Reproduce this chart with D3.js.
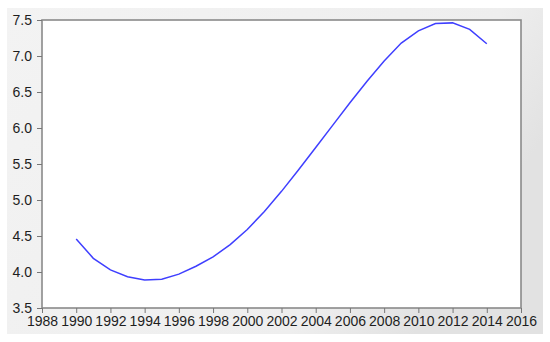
<!DOCTYPE html>
<html>
<head>
<meta charset="utf-8">
<script src="https://cdn.jsdelivr.net/npm/d3@7"></script>
<style>
  body { margin: 0; background: #fff; }
  svg { display: block; font-family: "Liberation Sans", Arial, sans-serif; }
  .axis text { font-size: 14px; fill: #1e1e1e; }
  .axis path { display: none; }
  .axis line { stroke: #777; }
</style>
</head>
<body>
<div class="graph-container"></div>
<script>
// Series
const years = [1990, 1991, 1992, 1993, 1994, 1995, 1996, 1997, 1998, 1999,
               2000, 2001, 2002, 2003, 2004, 2005, 2006, 2007, 2008, 2009,
               2010, 2011, 2012, 2013, 2014];
const values = [4.46, 4.19, 4.03, 3.935, 3.89, 3.90, 3.97, 4.08, 4.21, 4.38,
                4.59, 4.84, 5.12, 5.42, 5.73, 6.04, 6.35, 6.65, 6.93, 7.18,
                7.35, 7.45, 7.46, 7.37, 7.17];
const xTicks = [1988, 1990, 1992, 1994, 1996, 1998, 2000, 2002, 2004, 2006,
                2008, 2010, 2012, 2014, 2016];
const yTicks = [3.5, 4.0, 4.5, 5.0, 5.5, 6.0, 6.5, 7.0, 7.5];

const width = 550, height = 342;
const plot = { left: 42, top: 20, right: 521, bottom: 308 };

const svg = d3.select('.graph-container')
              .append('svg')
              .attr('width', width)
              .attr('height', height);

// Gray backdrop with a faint fade to the right
const grad = svg.append('defs')
                .append('linearGradient')
                .attr('id', 'bg')
                .attr('x1', 0).attr('x2', 1).attr('y1', 0).attr('y2', 0.4);
grad.append('stop').attr('offset', '0%').attr('stop-color', '#f3f3f3');
grad.append('stop').attr('offset', '80%').attr('stop-color', '#eeeeee');
grad.append('stop').attr('offset', '100%').attr('stop-color', '#e2e2e2');

svg.append('rect')
   .attr('x', 7).attr('y', 8)
   .attr('width', 536).attr('height', 326)
   .attr('fill', 'url(#bg)');

const x = d3.scaleLinear()
            .domain([1988, 2016])
            .range([plot.left, plot.right]);
const y = d3.scaleLinear()
            .domain([3.5, 7.5])
            .range([plot.bottom, plot.top]);

// Plot area
svg.append('rect')
   .attr('x', plot.left).attr('y', plot.top)
   .attr('width', plot.right - plot.left)
   .attr('height', plot.bottom - plot.top)
   .attr('fill', '#fff')
   .attr('stroke', '#8a8a8a')
   .attr('stroke-width', 1.6);

// Axes
svg.append('g')
   .attr('class', 'axis x-axis')
   .attr('transform', `translate(0,${plot.bottom})`)
   .call(d3.axisBottom(x)
           .tickValues(xTicks)
           .tickFormat(d3.format('d'))
           .tickSize(5)
           .tickPadding(3));

svg.append('g')
   .attr('class', 'axis y-axis')
   .attr('transform', `translate(${plot.left},0)`)
   .call(d3.axisLeft(y)
           .tickValues(yTicks)
           .tickFormat(d3.format('.1f'))
           .tickSize(5)
           .tickPadding(5));

// Series line
const data = years.map((yr, i) => ({ year: yr, value: values[i] }));

svg.append('path')
   .datum(data)
   .attr('fill', 'none')
   .attr('stroke', '#3f3fff')
   .attr('stroke-width', 1.5)
   .attr('d', d3.line()
     .x(d => x(d.year))
     .y(d => y(d.value)));
</script>
</body>
</html>
